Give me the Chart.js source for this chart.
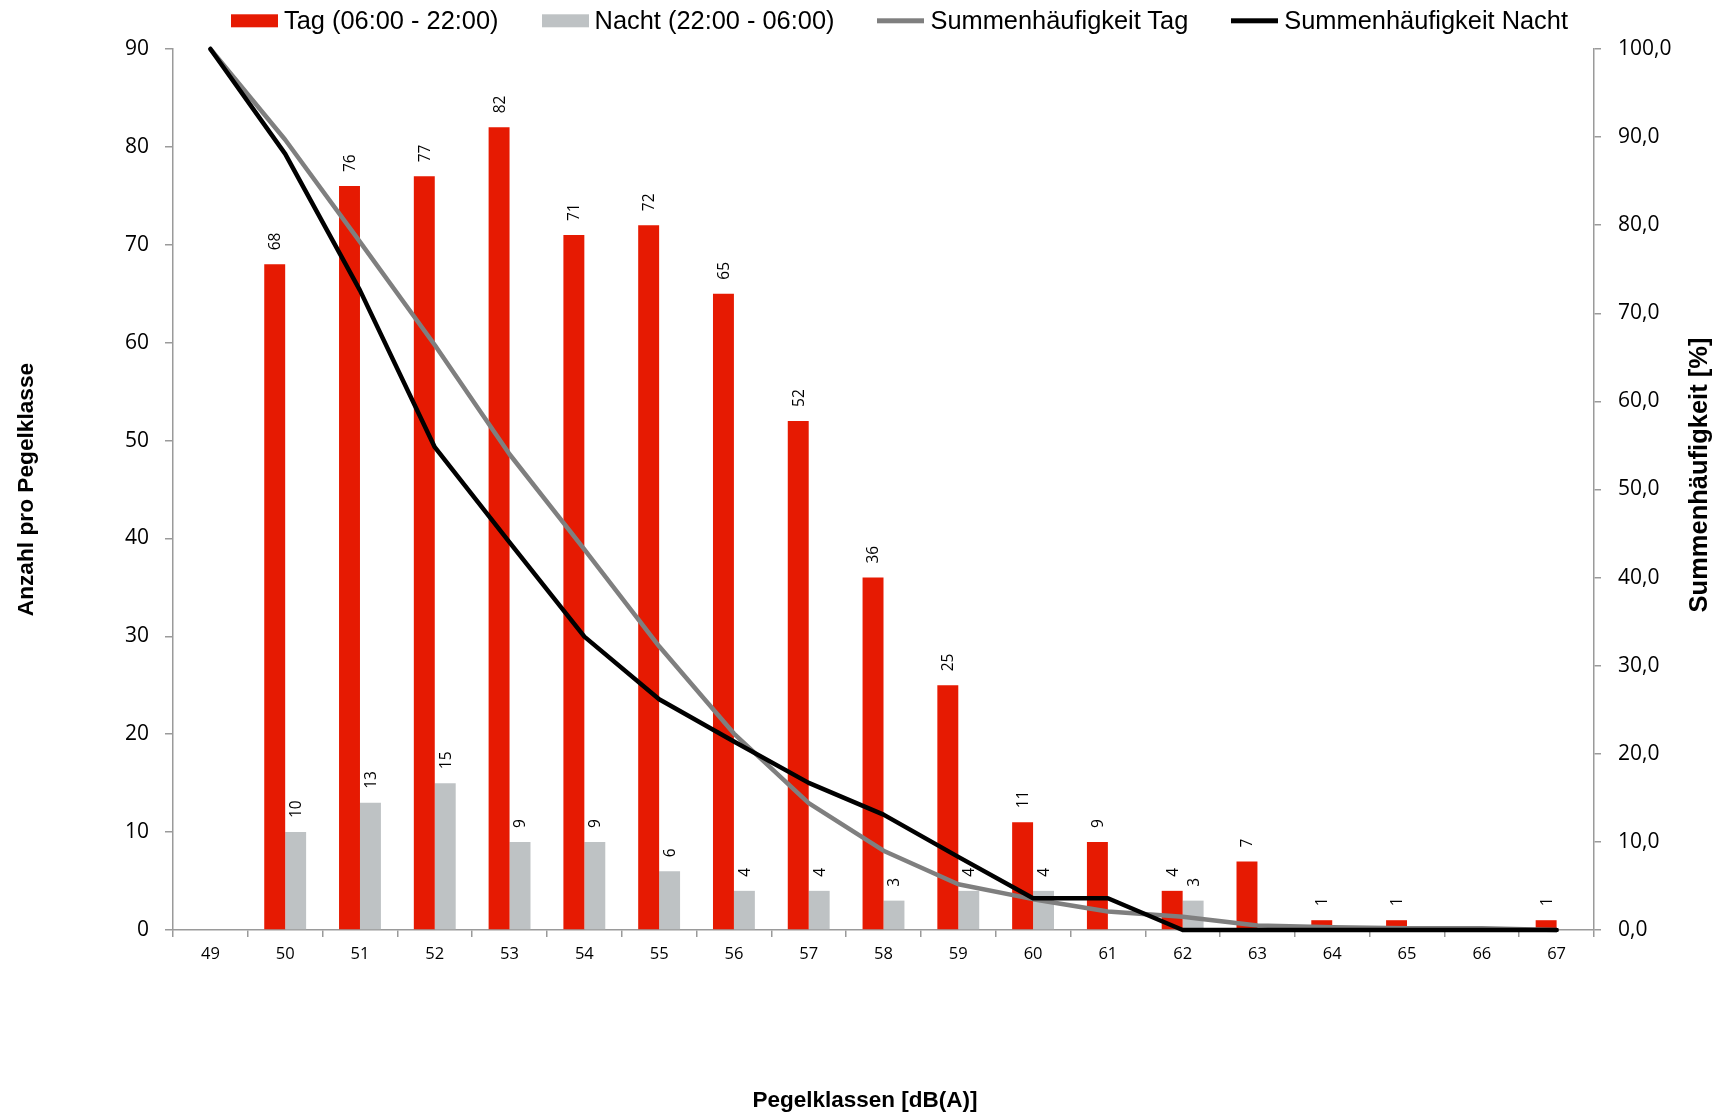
<!DOCTYPE html>
<html lang="de">
<head>
<meta charset="utf-8">
<title>Pegelklassen</title>
<script src="https://cdn.jsdelivr.net/npm/chart.js@4.4.1/dist/chart.umd.min.js"></script>
<style>
  html, body { margin: 0; padding: 0; background: #fff; }
  #wrap { position: relative; width: 1722px; height: 1119px; }
  #chart { position: absolute; left: 0; top: 0; }
  #legend {
    position: absolute; left: 231px; top: 21px; transform: translateY(-50%);
    display: flex; align-items: center; gap: 43px;
    font: 25.4px "Liberation Sans", Arial, sans-serif; color: #000; line-height: 1;
    white-space: nowrap;
  }
  .item { display: flex; align-items: center; gap: 6px; }
  .swatch { width: 47px; }
</style>
</head>
<body>
<div id="wrap">
  <canvas id="chart" width="1722" height="1119"></canvas>
  <div id="legend"></div>
</div>
<script>
// Pegelklassen in dB(A)
const pegelklassen = ['49','50','51','52','53','54','55','56','57','58','59','60','61','62','63','64','65','66','67'];

// Anzahl der Messwerte pro Pegelklasse
const anzahlTag   = [0, 68, 76, 77, 82, 71, 72, 65, 52, 36, 25, 11, 9, 4, 7, 1, 1, 0, 1];
const anzahlNacht = [0, 10, 13, 15, 9, 9, 6, 4, 4, 3, 4, 4, 0, 3, 0, 0, 0, 0, 0];

// Summenhäufigkeit in Prozent
const summeTag   = [100.0, 89.7, 78.1, 66.4, 54.0, 43.2, 32.2, 22.3, 14.4, 9.0, 5.2, 3.5, 2.1, 1.5, 0.5, 0.3, 0.2, 0.2, 0.0];
const summeNacht = [100.0, 88.1, 72.6, 54.8, 44.0, 33.3, 26.2, 21.4, 16.7, 13.1, 8.3, 3.6, 3.6, 0.0, 0.0, 0.0, 0.0, 0.0, 0.0];

// Achsenbeschriftungen
const tickLinks = [0, 10, 20, 30, 40, 50, 60, 70, 80, 90];
const tickRechts = [0, 10, 20, 30, 40, 50, 60, 70, 80, 90, 100];
const titelX = 'Pegelklassen [dB(A)]';
const titelLinks = 'Anzahl pro Pegelklasse';
const titelRechts = 'Summenhäufigkeit [%]';

const axisGrey = '#9a9a9a';
const tickFont = { family: '"Open Sans", sans-serif', size: 21 };
const boldFamily = '"Liberation Sans", Arial, sans-serif';

// vertical value labels above each bar (not drawn for empty classes)
const barValueLabels = {
  id: 'barValueLabels',
  afterDatasetDraw(chart, args) {
    const meta = args.meta;
    if (meta.type !== 'bar') return;
    const ds = chart.data.datasets[args.index];
    const ctx = chart.ctx;
    ctx.save();
    ctx.fillStyle = '#000';
    ctx.font = '15.5px "Open Sans", sans-serif';
    ctx.textAlign = 'left';
    ctx.textBaseline = 'middle';
    meta.data.forEach((bar, i) => {
      const v = ds.data[i];
      if (!v) return;
      ctx.save();
      ctx.translate(bar.x + 1, bar.y - 14);
      ctx.rotate(-Math.PI / 2);
      ctx.fillText(String(v), 0, 0);
      ctx.restore();
    });
    ctx.restore();
  }
};

// titles of the bottom and right axes (right one reads bottom-to-top)
const extraTitles = {
  id: 'extraTitles',
  afterDraw(chart) {
    const ctx = chart.ctx;
    ctx.save();
    ctx.fillStyle = '#000';
    ctx.textAlign = 'center';
    ctx.textBaseline = 'middle';
    ctx.font = 'bold 22.5px ' + boldFamily;
    ctx.fillText(titelX, 865, 1101);
    ctx.translate(1700, 475);
    ctx.rotate(-Math.PI / 2);
    ctx.font = 'bold 25.5px ' + boldFamily;
    ctx.fillText(titelRechts, 0, 0);
    ctx.restore();
  }
};

const chart = new Chart(document.getElementById('chart'), {
  type: 'bar',
  data: {
    labels: pegelklassen,
    datasets: [
      {
        type: 'line', label: 'Summenhäufigkeit Nacht', data: summeNacht, yAxisID: 'y1',
        borderColor: '#000000', backgroundColor: '#000000', borderWidth: 4.5,
        pointRadius: 0, tension: 0, order: 0, clip: 8,
        borderJoinStyle: 'round', borderCapStyle: 'round'
      },
      {
        type: 'line', label: 'Summenhäufigkeit Tag', data: summeTag, yAxisID: 'y1',
        borderColor: '#7f7f7f', backgroundColor: '#7f7f7f', borderWidth: 4.5,
        pointRadius: 0, tension: 0, order: 1, clip: 8,
        borderJoinStyle: 'round', borderCapStyle: 'round'
      },
      {
        label: 'Tag (06:00 - 22:00)', data: anzahlTag, yAxisID: 'y',
        backgroundColor: '#e61a02', borderWidth: 0, order: 2,
        categoryPercentage: 0.56, barPercentage: 1.0
      },
      {
        label: 'Nacht (22:00 - 06:00)', data: anzahlNacht, yAxisID: 'y',
        backgroundColor: '#bec2c4', borderWidth: 0, order: 3,
        categoryPercentage: 0.56, barPercentage: 1.0
      }
    ]
  },
  options: {
    responsive: false,
    animation: false,
    devicePixelRatio: 1,
    layout: { padding: { top: 49, left: 0, right: 0, bottom: 0 } },
    plugins: {
      legend: { display: false },
      tooltip: { enabled: false },
      title: { display: false }
    },
    scales: {
      x: {
        grid: { display: true, drawOnChartArea: false, drawTicks: true, tickLength: 7, color: axisGrey, lineWidth: 1.5, offset: true },
        border: { display: true, color: axisGrey, width: 1.5 },
        ticks: { color: '#000', font: { family: '"Open Sans", sans-serif', size: 16.5 }, padding: 7, maxRotation: 0, autoSkip: false },
        title: { display: false },
        afterFit(scale) { scale.height = 189; }
      },
      y: {
        position: 'left', min: 0, max: 90,
        afterBuildTicks(scale) { scale.ticks = tickLinks.map(v => ({ value: v })); },
        grid: { display: true, drawOnChartArea: false, drawTicks: true, tickLength: 8, color: axisGrey, lineWidth: 1.5 },
        border: { display: true, color: axisGrey, width: 1.5 },
        ticks: { color: '#000', font: tickFont, padding: 16, callback: v => String(v) },
        title: { display: true, text: titelLinks, color: '#000', font: { family: boldFamily, size: 22.7, weight: 'bold' }, padding: { top: 13.4, bottom: 0 } },
        afterFit(scale) { scale.width = 173; }
      },
      y1: {
        position: 'right', min: 0, max: 100,
        afterBuildTicks(scale) { scale.ticks = tickRechts.map(v => ({ value: v })); },
        grid: { display: true, drawOnChartArea: false, drawTicks: true, tickLength: 7, color: axisGrey, lineWidth: 1.5 },
        border: { display: true, color: axisGrey, width: 1.5 },
        ticks: { color: '#000', font: tickFont, padding: 17, callback: v => Number(v).toFixed(1).replace('.', ',') },
        title: { display: false },
        afterFit(scale) { scale.width = 128; }
      }
    }
  },
  plugins: [barValueLabels, extraTitles]
});

// legend: bars first, then the two cumulative lines
(function buildLegend() {
  const host = document.getElementById('legend');
  const order = [2, 3, 1, 0];
  order.forEach(idx => {
    const ds = chart.data.datasets[idx];
    const item = document.createElement('div');
    item.className = 'item';
    const sw = document.createElement('span');
    sw.className = 'swatch';
    const isLine = ds.type === 'line';
    sw.style.height = isLine ? '5px' : '13px';
    sw.style.background = isLine ? ds.borderColor : ds.backgroundColor;
    const txt = document.createElement('span');
    txt.textContent = ds.label;
    item.appendChild(sw);
    item.appendChild(txt);
    host.appendChild(item);
  });
})();
</script>
</body>
</html>
